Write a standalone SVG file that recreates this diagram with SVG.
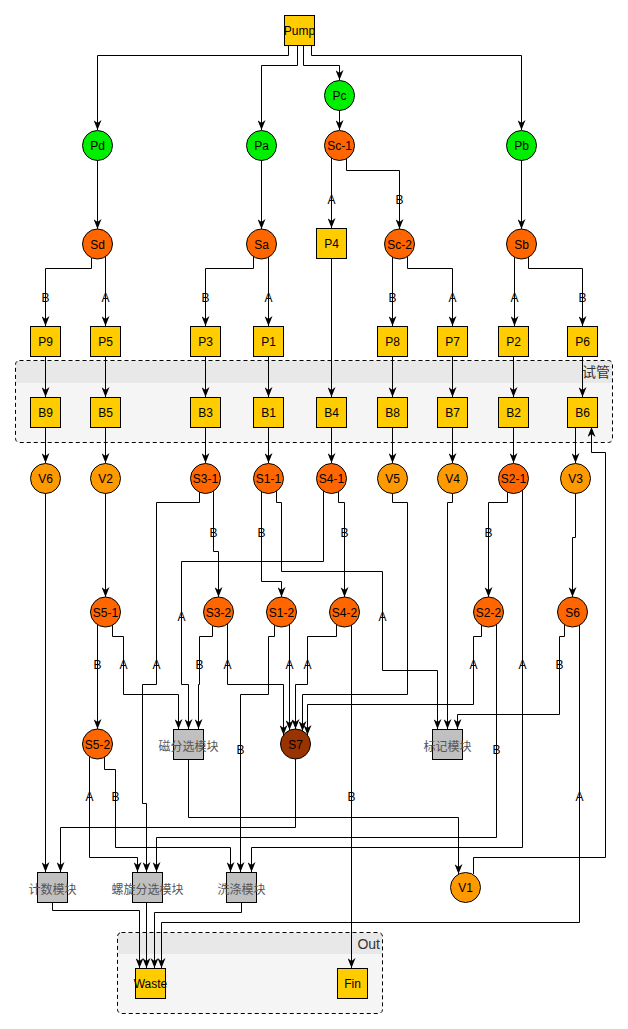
<svg xmlns="http://www.w3.org/2000/svg" width="628" height="1029" viewBox="0 0 628 1029">
<defs>
<marker id="arr" markerWidth="10" markerHeight="8" refX="10" refY="4" orient="auto" markerUnits="userSpaceOnUse" viewBox="0 0 10 8"><path d="M0,0 L10,4 L0,8 L3,4 Z" fill="#000"/></marker>
<style>
.e{fill:none;stroke:#000;stroke-width:1;marker-end:url(#arr)}
.lbl{font-family:"Liberation Sans",Arial,sans-serif;font-size:12px;fill:#000;text-anchor:middle;dominant-baseline:central}
.t{font-family:"Liberation Sans",Arial,sans-serif;font-size:12px;fill:#000;text-anchor:middle;dominant-baseline:central}
.cn{font-family:"Noto Sans CJK SC",sans-serif;font-size:12px;fill:#555;text-anchor:middle;dominant-baseline:central}
.gl{font-family:"Liberation Sans","Noto Sans CJK SC",sans-serif;font-size:14px;fill:#333;text-anchor:end;dominant-baseline:central}
.y{fill:#ffcc00;stroke:#000;stroke-width:1}
.g{fill:#00ee00;stroke:#000;stroke-width:1}
.s{fill:#ff6600;stroke:#000;stroke-width:1}
.v{fill:#ff9900;stroke:#000;stroke-width:1}
.d{fill:#993300;stroke:#000;stroke-width:1}
.m{fill:#c0c0c0;stroke:#000;stroke-width:1}
.grp{fill:#f5f5f5;stroke:none}
.hdr{fill:#e8e8e8;stroke:none}
.gb{fill:none;stroke:#000;stroke-width:1;stroke-dasharray:4 3}
</style>
</defs>
<rect width="628" height="1029" fill="#fff"/>
<g id="group-shiguan">
<rect x="15.5" y="360.5" width="597" height="82" rx="4" class="grp"/>
<rect x="16" y="361" width="596" height="22" class="hdr"/>
<rect x="15.5" y="360.5" width="597" height="82" rx="4" class="gb"/>
<text x="610" y="372" class="gl">试管</text>
</g>
<g id="group-out">
<rect x="117.5" y="932.5" width="265" height="81" rx="4" class="grp"/>
<rect x="118" y="933" width="264" height="21" class="hdr"/>
<rect x="117.5" y="932.5" width="265" height="81" rx="4" class="gb"/>
<text x="380" y="944" class="gl">Out</text>
</g>
<g id="connectors">
<path class="e" d="M288.5,45 V55.5 H97.5 V130"/>
<path class="e" d="M297.5,45 V65.5 H261.5 V130"/>
<path class="e" d="M303.5,45 V65.5 H339.5 V80"/>
<path class="e" d="M311.5,45 V55.5 H521.5 V130"/>
<path class="e" d="M339.5,110 V130"/>
<path class="e" d="M97.5,160 V229"/>
<path class="e" d="M261.5,160 V229"/>
<path class="e" d="M521.5,160 V229"/>
<path class="e" d="M331.5,158 V228"/>
<path class="e" d="M346.5,158 V170.5 H399.5 V229"/>
<path class="e" d="M91.5,258 V268.5 H45.5 V326"/>
<path class="e" d="M105.5,256 V326"/>
<path class="e" d="M253.5,257 V268.5 H205.5 V326"/>
<path class="e" d="M268.5,257 V326"/>
<path class="e" d="M392.5,257 V326"/>
<path class="e" d="M407.5,257 V268.5 H452.5 V326"/>
<path class="e" d="M514.5,257 V326"/>
<path class="e" d="M528.5,257 V268.5 H582.5 V326"/>
<path class="e" d="M45.5,356 V397"/>
<path class="e" d="M105.5,356 V397"/>
<path class="e" d="M205.5,356 V397"/>
<path class="e" d="M268.5,356 V397"/>
<path class="e" d="M331.5,258 V397"/>
<path class="e" d="M392.5,356 V397"/>
<path class="e" d="M452.5,356 V397"/>
<path class="e" d="M513.5,356 V397"/>
<path class="e" d="M582.5,356 V397"/>
<path class="e" d="M45.5,427 V463"/>
<path class="e" d="M105.5,427 V463"/>
<path class="e" d="M205.5,427 V463"/>
<path class="e" d="M268.5,427 V463"/>
<path class="e" d="M331.5,427 V463"/>
<path class="e" d="M392.5,427 V463"/>
<path class="e" d="M452.5,427 V463"/>
<path class="e" d="M513.5,427 V463"/>
<path class="e" d="M575.5,427 V463"/>
<path class="e" d="M45.5,493 V872"/>
<path class="e" d="M105.5,493 V597"/>
<path class="e" d="M199.5,492 V502.5 H156.5 V684.5 H142.5 V803.5 H146.5 V872"/>
<path class="e" d="M213.5,491 V551.5 H218.5 V597"/>
<path class="e" d="M261.5,491 V581.5 H281.5 V597"/>
<path class="e" d="M276.5,491 V502.5 H281.5 V571.5 H382.5 V670.5 H437.5 V729"/>
<path class="e" d="M323.5,491 V561.5 H181.5 V684.5 H188.5 V729"/>
<path class="e" d="M338.5,491 V502.5 H344.5 V597"/>
<path class="e" d="M392.5,493 V502.5 H407.5 V694.5 H302.5 V731"/>
<path class="e" d="M452.5,493 V502.5 H447.5 V729"/>
<path class="e" d="M507.5,492 V502.5 H488.5 V597"/>
<path class="e" d="M522.5,490 V847.5 H251.5 V872"/>
<path class="e" d="M575.5,493 V537.5 H572.5 V597"/>
<path class="e" d="M97.5,625 V729"/>
<path class="e" d="M112.5,625 V636.5 H123.5 V694.5 H178.5 V729"/>
<path class="e" d="M212.5,626 V636.5 H199.5 V684.5 H198.5 V729"/>
<path class="e" d="M227.5,624 V684.5 H283.5 V735"/>
<path class="e" d="M274.5,625 V636.5 H268.5 V694.5 H240.5 V872"/>
<path class="e" d="M289.5,625 V730"/>
<path class="e" d="M336.5,625 V636.5 H307.5 V684.5 H295.5 V729"/>
<path class="e" d="M351.5,625 V968"/>
<path class="e" d="M481.5,625 V636.5 H473.5 V704.5 H307.5 V735"/>
<path class="e" d="M496.5,625 V837.5 H156.5 V872"/>
<path class="e" d="M564.5,625 V636.5 H559.5 V714.5 H457.5 V729"/>
<path class="e" d="M579.5,625 V922.5 H161.5 V968"/>
<path class="e" d="M89.5,757 V857.5 H137.5 V872"/>
<path class="e" d="M104.5,757 V769.5 H115.5 V847.5 H230.5 V872"/>
<path class="e" d="M188.5,759 V817.5 H458.5 V874"/>
<path class="e" d="M295.5,759 V827.5 H60.5 V872"/>
<path class="e" d="M473.5,874 V857.5 H605.5 V452.5 H591.5 V427"/>
<path class="e" d="M52.5,902 V910.5 H139.5 V968"/>
<path class="e" d="M146.5,902 V968"/>
<path class="e" d="M241.5,902 V912.5 H154.5 V968"/>
<text x="331.5" y="200" class="lbl">A</text>
<text x="399.5" y="200" class="lbl">B</text>
<text x="45.5" y="298" class="lbl">B</text>
<text x="105.5" y="298" class="lbl">A</text>
<text x="205.5" y="298" class="lbl">B</text>
<text x="268.5" y="298" class="lbl">A</text>
<text x="392.5" y="298" class="lbl">B</text>
<text x="452.5" y="298" class="lbl">A</text>
<text x="514.5" y="298" class="lbl">A</text>
<text x="582.5" y="298" class="lbl">B</text>
<text x="213.5" y="533" class="lbl">B</text>
<text x="261.5" y="533" class="lbl">B</text>
<text x="344.5" y="533" class="lbl">B</text>
<text x="488.5" y="533" class="lbl">B</text>
<text x="181.5" y="617" class="lbl">A</text>
<text x="382.5" y="617" class="lbl">A</text>
<text x="156.5" y="665" class="lbl">A</text>
<text x="97.5" y="665" class="lbl">B</text>
<text x="123.5" y="665" class="lbl">A</text>
<text x="199.5" y="665" class="lbl">B</text>
<text x="227.5" y="665" class="lbl">A</text>
<text x="289.5" y="665" class="lbl">A</text>
<text x="307.5" y="665" class="lbl">A</text>
<text x="473.5" y="665" class="lbl">A</text>
<text x="522.5" y="665" class="lbl">A</text>
<text x="559.5" y="665" class="lbl">B</text>
<text x="240.5" y="750" class="lbl">B</text>
<text x="496.5" y="750" class="lbl">B</text>
<text x="89.5" y="797" class="lbl">A</text>
<text x="115.5" y="797" class="lbl">B</text>
<text x="351.5" y="797" class="lbl">B</text>
<text x="579.5" y="797" class="lbl">A</text>
</g>
<g id="Pump"><rect x="284.5" y="15.5" width="30" height="30" class="y"/><text x="299.5" y="31" class="t">Pump</text></g>
<g id="Pd"><circle cx="97.5" cy="145.5" r="15" class="g"/><text x="97.5" y="146" class="t">Pd</text></g>
<g id="Pa"><circle cx="261.5" cy="145.5" r="15" class="g"/><text x="261.5" y="146" class="t">Pa</text></g>
<g id="Pc"><circle cx="339.5" cy="95.5" r="15" class="g"/><text x="339.5" y="96" class="t">Pc</text></g>
<g id="Sc-1"><circle cx="339.5" cy="145.5" r="15" class="s"/><text x="339.5" y="146" class="t">Sc-1</text></g>
<g id="Pb"><circle cx="521.5" cy="145.5" r="15" class="g"/><text x="521.5" y="146" class="t">Pb</text></g>
<g id="Sd"><circle cx="97.5" cy="244" r="15" class="s"/><text x="97.5" y="244.5" class="t">Sd</text></g>
<g id="Sa"><circle cx="261.5" cy="244" r="15" class="s"/><text x="261.5" y="244.5" class="t">Sa</text></g>
<g id="P4"><rect x="316.5" y="228.5" width="30" height="30" class="y"/><text x="331.5" y="244" class="t">P4</text></g>
<g id="Sc-2"><circle cx="399.5" cy="244" r="15" class="s"/><text x="399.5" y="244.5" class="t">Sc-2</text></g>
<g id="Sb"><circle cx="521.5" cy="244" r="15" class="s"/><text x="521.5" y="244.5" class="t">Sb</text></g>
<g id="P9"><rect x="30.5" y="326.5" width="30" height="30" class="y"/><text x="45.5" y="342" class="t">P9</text></g>
<g id="P5"><rect x="90.5" y="326.5" width="30" height="30" class="y"/><text x="105.5" y="342" class="t">P5</text></g>
<g id="P3"><rect x="190.5" y="326.5" width="30" height="30" class="y"/><text x="205.5" y="342" class="t">P3</text></g>
<g id="P1"><rect x="253.5" y="326.5" width="30" height="30" class="y"/><text x="268.5" y="342" class="t">P1</text></g>
<g id="P8"><rect x="377.5" y="326.5" width="30" height="30" class="y"/><text x="392.5" y="342" class="t">P8</text></g>
<g id="P7"><rect x="437.5" y="326.5" width="30" height="30" class="y"/><text x="452.5" y="342" class="t">P7</text></g>
<g id="P2"><rect x="498.5" y="326.5" width="30" height="30" class="y"/><text x="513.5" y="342" class="t">P2</text></g>
<g id="P6"><rect x="567.5" y="326.5" width="30" height="30" class="y"/><text x="582.5" y="342" class="t">P6</text></g>
<g id="B9"><rect x="30.5" y="397.5" width="30" height="30" class="y"/><text x="45.5" y="413" class="t">B9</text></g>
<g id="B5"><rect x="90.5" y="397.5" width="30" height="30" class="y"/><text x="105.5" y="413" class="t">B5</text></g>
<g id="B3"><rect x="190.5" y="397.5" width="30" height="30" class="y"/><text x="205.5" y="413" class="t">B3</text></g>
<g id="B1"><rect x="253.5" y="397.5" width="30" height="30" class="y"/><text x="268.5" y="413" class="t">B1</text></g>
<g id="B4"><rect x="316.5" y="397.5" width="30" height="30" class="y"/><text x="331.5" y="413" class="t">B4</text></g>
<g id="B8"><rect x="377.5" y="397.5" width="30" height="30" class="y"/><text x="392.5" y="413" class="t">B8</text></g>
<g id="B7"><rect x="437.5" y="397.5" width="30" height="30" class="y"/><text x="452.5" y="413" class="t">B7</text></g>
<g id="B2"><rect x="498.5" y="397.5" width="30" height="30" class="y"/><text x="513.5" y="413" class="t">B2</text></g>
<g id="B6"><rect x="567.5" y="397.5" width="30" height="30" class="y"/><text x="582.5" y="413" class="t">B6</text></g>
<g id="V6"><circle cx="45.5" cy="478.5" r="15" class="v"/><text x="45.5" y="479" class="t">V6</text></g>
<g id="V2"><circle cx="105.5" cy="478.5" r="15" class="v"/><text x="105.5" y="479" class="t">V2</text></g>
<g id="S3-1"><circle cx="205.5" cy="478.5" r="15" class="s"/><text x="205.5" y="479" class="t">S3-1</text></g>
<g id="S1-1"><circle cx="268.5" cy="478.5" r="15" class="s"/><text x="268.5" y="479" class="t">S1-1</text></g>
<g id="S4-1"><circle cx="331.5" cy="478.5" r="15" class="s"/><text x="331.5" y="479" class="t">S4-1</text></g>
<g id="V5"><circle cx="392.5" cy="478.5" r="15" class="v"/><text x="392.5" y="479" class="t">V5</text></g>
<g id="V4"><circle cx="452.5" cy="478.5" r="15" class="v"/><text x="452.5" y="479" class="t">V4</text></g>
<g id="S2-1"><circle cx="513.5" cy="478.5" r="15" class="s"/><text x="513.5" y="479" class="t">S2-1</text></g>
<g id="V3"><circle cx="575.5" cy="478.5" r="15" class="v"/><text x="575.5" y="479" class="t">V3</text></g>
<g id="S5-1"><circle cx="105.5" cy="612" r="15" class="s"/><text x="105.5" y="612.5" class="t">S5-1</text></g>
<g id="S3-2"><circle cx="218.5" cy="612" r="15" class="s"/><text x="218.5" y="612.5" class="t">S3-2</text></g>
<g id="S1-2"><circle cx="281.5" cy="612" r="15" class="s"/><text x="281.5" y="612.5" class="t">S1-2</text></g>
<g id="S4-2"><circle cx="344.5" cy="612" r="15" class="s"/><text x="344.5" y="612.5" class="t">S4-2</text></g>
<g id="S2-2"><circle cx="488.5" cy="612" r="15" class="s"/><text x="488.5" y="612.5" class="t">S2-2</text></g>
<g id="S6"><circle cx="572.5" cy="612" r="15" class="s"/><text x="572.5" y="612.5" class="t">S6</text></g>
<g id="S5-2"><circle cx="97.5" cy="744" r="15" class="s"/><text x="97.5" y="744.5" class="t">S5-2</text></g>
<g id="magnetic-sort"><rect x="173.5" y="729.5" width="30" height="30" class="m"/><text x="188.5" y="745" class="cn">磁分选模块</text></g>
<g id="S7"><circle cx="295.5" cy="744" r="15" class="d"/><text x="295.5" y="744.5" class="t">S7</text></g>
<g id="label-module"><rect x="432.5" y="729.5" width="30" height="30" class="m"/><text x="447.5" y="745" class="cn">标记模块</text></g>
<g id="count-module"><rect x="37.5" y="872.5" width="30" height="30" class="m"/><text x="52.5" y="888" class="cn">计数模块</text></g>
<g id="spiral-sort"><rect x="132.5" y="872.5" width="30" height="30" class="m"/><text x="147.5" y="888" class="cn">螺旋分选模块</text></g>
<g id="wash-module"><rect x="226.5" y="872.5" width="30" height="30" class="m"/><text x="241.5" y="888" class="cn">洗涤模块</text></g>
<g id="V1"><circle cx="465.5" cy="887.5" r="15" class="v"/><text x="465.5" y="888" class="t">V1</text></g>
<g id="Waste"><rect x="135.5" y="968.5" width="30" height="30" class="y"/><text x="150.5" y="984" class="t">Waste</text></g>
<g id="Fin"><rect x="337.5" y="968.5" width="30" height="30" class="y"/><text x="352.5" y="984" class="t">Fin</text></g>
</svg>
